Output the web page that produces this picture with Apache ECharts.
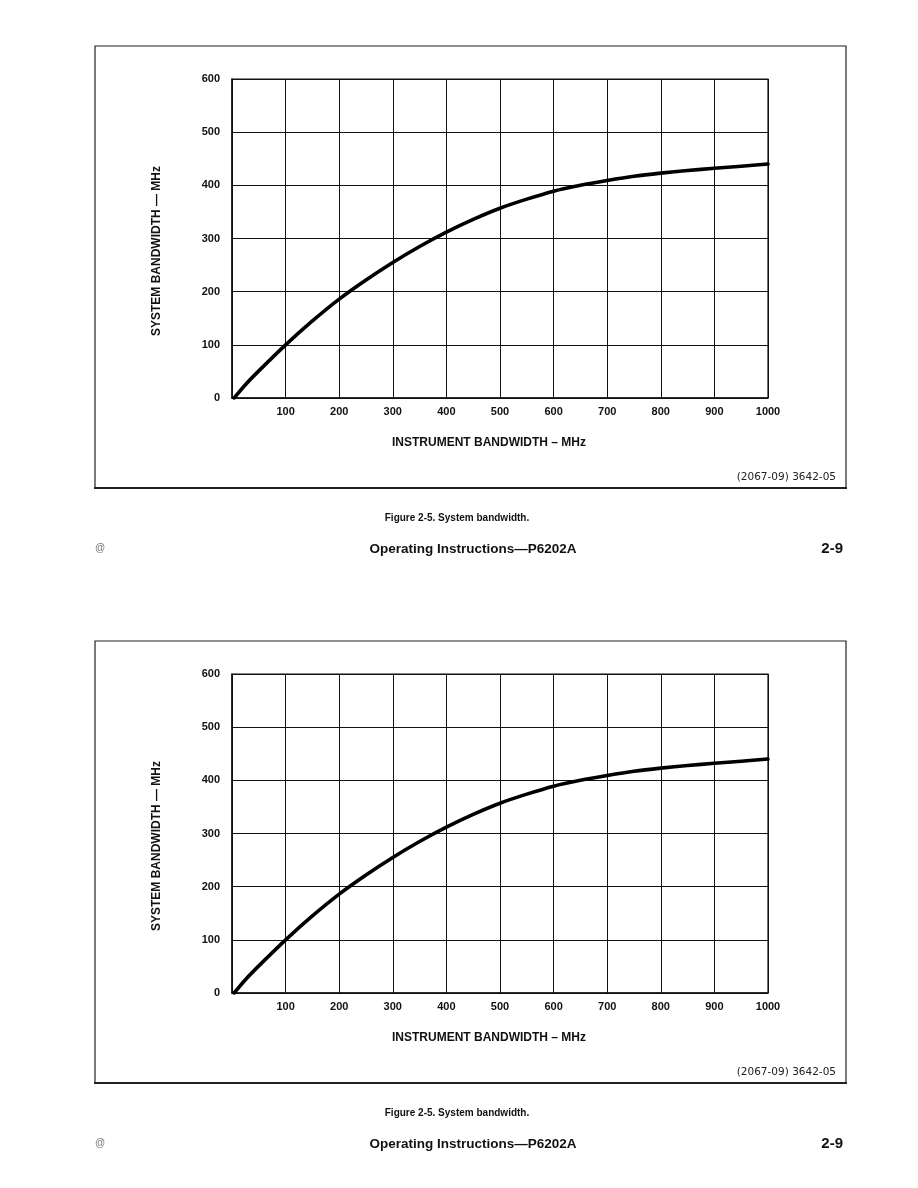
<!DOCTYPE html>
<html><head><meta charset="utf-8">
<script src="https://cdn.jsdelivr.net/npm/echarts@6/dist/echarts.min.js"></script>
<style>html,body{margin:0;padding:0;background:#fff}#c{width:918px;height:1188px}</style>
</head><body><div id="c"></div>
<script>
// ---- data ----
const instrumentBW = [4, 25, 50, 100, 150, 200, 250, 300, 350, 400, 450, 500, 550, 600, 650, 700, 750, 800, 850, 900, 950, 1000];
const systemBW     = [0, 25, 51, 100, 145, 186, 222, 255, 285, 312, 336, 357, 374, 389, 400, 409, 417, 423, 428, 432, 436, 440];
const xTickLabels = ['', '100', '200', '300', '400', '500', '600', '700', '800', '900', '1000'];
const yTickLabels = ['0', '100', '200', '300', '400', '500', '600'];
const xAxisTitle = 'INSTRUMENT BANDWIDTH \u2013 MHz';
const yAxisTitle = 'SYSTEM BANDWIDTH \u2014 MHz';
const figureNote = '(2067-09) 3642-05';
const figureCaption = 'Figure 2-5. System bandwidth.';
const pageHeader = 'Operating Instructions\u2014P6202A';
const pageNumber = '2-9';
const pageMark = '@';

const copies = [0, 595]; // the page shows the figure twice
const curve = instrumentBW.map((x, i) => [x, systemBW[i]]);
const FONT = '"Liberation Sans", Arial, Helvetica, sans-serif';
const INK = '#111';

const chart = echarts.init(document.getElementById('c'), null, {renderer: 'canvas'});

const grids = [], xAxes = [], yAxes = [], series = [], graphics = [];
copies.forEach((dy, k) => {
  grids.push({left: 232, width: 536, top: 79 + dy, height: 319, show: true,
    borderColor: INK, borderWidth: 1.2, backgroundColor: 'transparent', containLabel: false});
  xAxes.push({type: 'value', gridIndex: k, min: 0, max: 1000, interval: 100,
    axisLine: {show: true, onZero: false, lineStyle: {color: INK, width: 1.5}},
    axisTick: {show: false},
    splitLine: {show: true, lineStyle: {color: INK, width: 1}},
    axisLabel: {margin: 8, color: INK, fontFamily: FONT, fontWeight: 'bold', fontSize: 11,
      formatter: v => xTickLabels[Math.round(v / 100)]}});
  yAxes.push({type: 'value', gridIndex: k, min: 0, max: 600, interval: 100,
    axisLine: {show: true, onZero: false, lineStyle: {color: INK, width: 1.5}},
    axisTick: {show: false},
    splitLine: {show: true, lineStyle: {color: INK, width: 1}},
    axisLabel: {margin: 12, color: INK, fontFamily: FONT, fontWeight: 'bold', fontSize: 11,
      formatter: v => yTickLabels[Math.round(v / 100)]}});
  series.push({type: 'line', xAxisIndex: k, yAxisIndex: k, data: curve,
    smooth: 0.3, showSymbol: false, silent: true,
    lineStyle: {color: '#000', width: 3.6, cap: 'round', join: 'round'}});

  // frame around figure
  graphics.push({type: 'rect', shape: {x: 95, y: 46 + dy, width: 751, height: 442},
    style: {fill: 'none', stroke: '#222', lineWidth: 1.2}, silent: true});
  graphics.push({type: 'line', shape: {x1: 94, y1: 488 + dy, x2: 847, y2: 488 + dy},
    style: {stroke: '#222', lineWidth: 2}, silent: true});
  // axis titles
  graphics.push({type: 'text', x: 157, y: 251 + dy, rotation: Math.PI / 2,
    style: {text: yAxisTitle, fill: INK, font: 'bold 12px ' + FONT, textAlign: 'center', textVerticalAlign: 'middle'}});
  graphics.push({type: 'text', x: 489, y: 443 + dy,
    style: {text: xAxisTitle, fill: INK, font: 'bold 12px ' + FONT, textAlign: 'center', textVerticalAlign: 'middle'}});
  graphics.push({type: 'text', x: 836, y: 477 + dy,
    style: {text: figureNote, fill: '#222', font: '10.5px "DejaVu Sans", sans-serif', textAlign: 'right', textVerticalAlign: 'middle'}});
  // captions
  graphics.push({type: 'text', x: 457, y: 518 + dy,
    style: {text: figureCaption, fill: INK, font: 'bold 10px ' + FONT, textAlign: 'center', textVerticalAlign: 'middle'}});
  graphics.push({type: 'text', x: 473, y: 549 + dy,
    style: {text: pageHeader, fill: INK, font: 'bold 13.5px ' + FONT, textAlign: 'center', textVerticalAlign: 'middle'}});
  graphics.push({type: 'text', x: 843, y: 549 + dy,
    style: {text: pageNumber, fill: INK, font: 'bold 15px ' + FONT, textAlign: 'right', textVerticalAlign: 'middle'}});
  graphics.push({type: 'text', x: 100, y: 548 + dy,
    style: {text: pageMark, fill: '#777', font: '10px ' + FONT, textAlign: 'center', textVerticalAlign: 'middle'}});
});

chart.setOption({
  animation: false,
  backgroundColor: '#fff',
  grid: grids, xAxis: xAxes, yAxis: yAxes, series: series,
  graphic: graphics
});
</script>
</body></html>
